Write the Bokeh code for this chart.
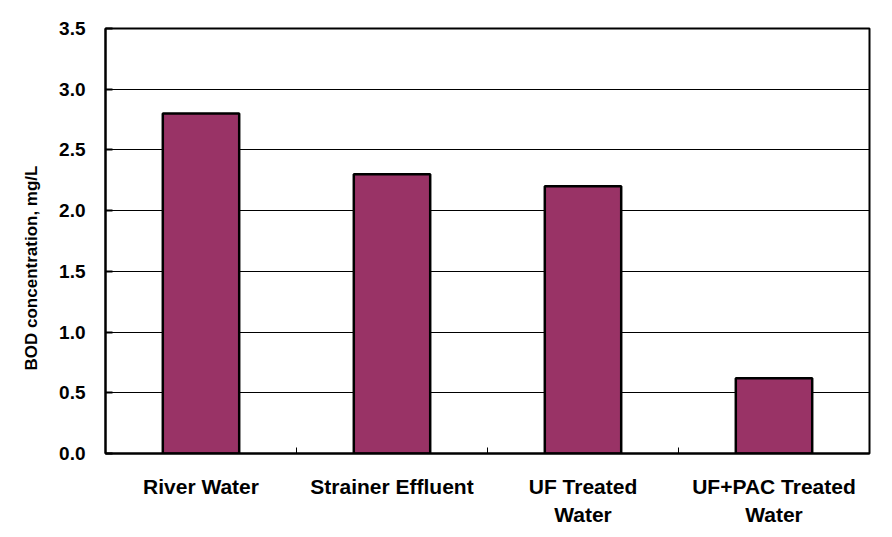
from bokeh.plotting import figure
from bokeh.models import FixedTicker, ColumnDataSource, Title
from bokeh.embed import file_html
from bokeh.resources import INLINE

categories = ["River Water", "Strainer Effluent", "UF Treated Water", "UF+PAC Treated Water"]
tick_labels = ["River Water", "Strainer Effluent", "UF Treated\nWater", "UF+PAC Treated\nWater"]
bod_values = [2.8, 2.3, 2.2, 0.62]
y_ticks = [0.0, 0.5, 1.0, 1.5, 2.0, 2.5, 3.0, 3.5]
y_tick_labels = ["0.0", "0.5", "1.0", "1.5", "2.0", "2.5", "3.0", "3.5"]
y_title = "BOD concentration, mg/L"

xs = list(range(1, len(categories) + 1))
src = ColumnDataSource(dict(x=xs, top=bod_values, cat=categories))

p = figure(width=892, height=537, output_backend="svg", toolbar_location=None,
           x_range=(0.5, len(categories) + 0.5), y_range=(0, 3.5),
           min_border_left=105, min_border_right=23, min_border_top=28, min_border_bottom=84)
p.background_fill_color = "white"
p.border_fill_color = "white"
p.outline_line_color = "black"
p.outline_line_width = 2

p.vbar(x="x", top="top", width=0.4, bottom=0, source=src,
       fill_color="#993366", line_color="black", line_width=2.5)

font = "Liberation Sans"

# x axis
p.xaxis.ticker = FixedTicker(ticks=xs, minor_ticks=[x + 0.5 for x in xs[:-1]])
p.xaxis.major_label_overrides = {x: lab for x, lab in zip(xs, tick_labels)}
p.xaxis.major_tick_line_color = None
p.xaxis.minor_tick_in = 6
p.xaxis.minor_tick_out = 0
p.xaxis.minor_tick_line_color = "black"
p.xaxis.minor_tick_line_width = 1
p.xaxis.axis_line_color = "black"
p.xaxis.axis_line_width = 2
p.xaxis.major_label_text_font = font
p.xaxis.major_label_text_font_style = "bold"
p.xaxis.major_label_text_font_size = "21px"
p.xaxis.major_label_text_color = "black"
p.xaxis.major_label_text_line_height = 1.22
p.xaxis.major_label_standoff = 15

# y axis
p.yaxis.ticker = FixedTicker(ticks=y_ticks, minor_ticks=[])
p.yaxis.major_label_overrides = {t: l for t, l in zip(y_ticks, y_tick_labels)}
p.yaxis.major_tick_in = 7
p.yaxis.major_tick_out = 0
p.yaxis.major_tick_line_width = 2
p.yaxis.major_tick_line_color = "black"
p.yaxis.axis_line_color = "black"
p.yaxis.axis_line_width = 2
p.yaxis.major_label_text_font = font
p.yaxis.major_label_text_font_style = "bold"
p.yaxis.major_label_text_font_size = "19px"
p.yaxis.major_label_text_color = "black"
p.yaxis.major_label_standoff = 20

# y-axis title, starting above the frame bottom like the original
p.add_layout(Title(text=y_title, align="left", offset=83, standoff=32,
                   text_font=font, text_font_style="bold", text_font_size="17px",
                   text_color="black"), "left")

p.xgrid.grid_line_color = None
p.ygrid.ticker = FixedTicker(ticks=y_ticks[1:-1])
p.ygrid.grid_line_color = "black"
p.ygrid.grid_line_width = 1

open("out.html", "w").write(file_html(p, INLINE))
